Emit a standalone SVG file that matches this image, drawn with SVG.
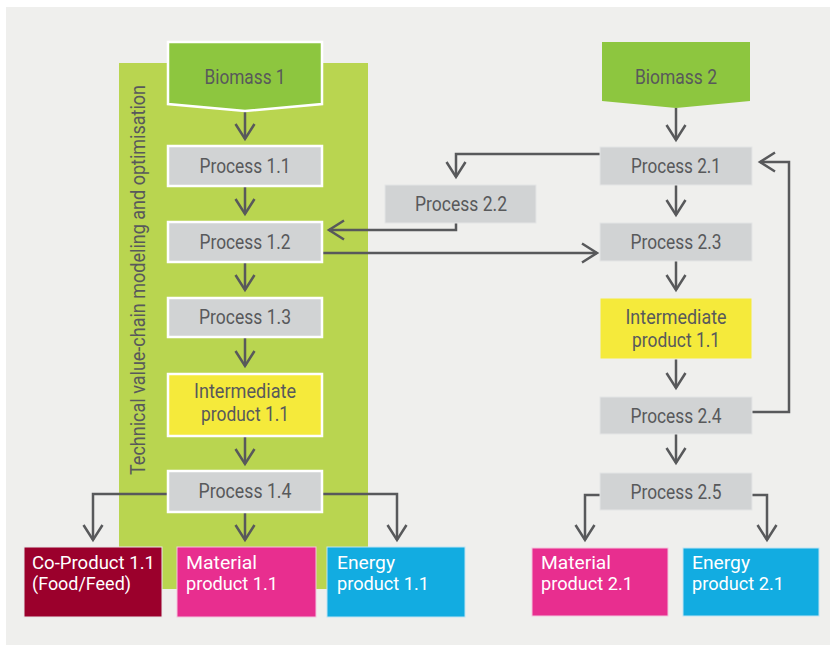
<svg xmlns="http://www.w3.org/2000/svg" width="830" height="645" viewBox="0 0 830 645">
<defs>
<style>
.t{font-family:Roboto,"Liberation Sans",sans-serif;font-size:20px;fill:#58595b;}
.c{text-anchor:middle;}
.w{fill:#ffffff;font-size:18px;}
.pl{fill:#d1d3d4;stroke:#ffffff;stroke-width:2.5;}
.pr{fill:#d1d3d4;stroke:#e4e5e6;stroke-width:1;}
.yl{fill:#f5ea3b;stroke:#ffffff;stroke-width:2.5;}
.yr{fill:#f5ea3b;stroke:#f0f0ec;stroke-width:1;}
.bm{fill:#8dc63f;}
.cn{fill:none;stroke:#58595b;stroke-width:2.5;marker-end:url(#ah);}
</style>
<marker id="ah" markerUnits="userSpaceOnUse" markerWidth="24" markerHeight="24" refX="0" refY="0" viewBox="-18 -12 20 24" orient="auto" overflow="visible">
<path d="M -15 -9.5 L 0 0 L -15 9.5" fill="none" stroke="#58595b" stroke-width="2.5"/>
</marker>
</defs>
<rect x="0" y="0" width="830" height="645" fill="#ffffff"/>
<rect x="6" y="7" width="824" height="638" fill="#efefed"/>
<g id="band">
<rect x="119" y="63" width="249" height="526" fill="#b9d550"/>
<text class="t" transform="translate(145,475) rotate(-90)" font-size="19" textLength="390" lengthAdjust="spacingAndGlyphs">Technical value-chain modeling and optimisation</text>
</g>
<g id="connectors">
<line class="cn" x1="245" y1="111" x2="245" y2="139"/>
<line class="cn" x1="245" y1="187" x2="245" y2="214"/>
<line class="cn" x1="245" y1="263" x2="245" y2="290"/>
<line class="cn" x1="245" y1="338" x2="245" y2="366"/>
<line class="cn" x1="245" y1="437" x2="245" y2="464"/>
<line class="cn" x1="245" y1="512" x2="245" y2="540"/>
<polyline class="cn" points="167,494 93,494 93,540"/>
<polyline class="cn" points="323,494 397,494 397,540"/>
<line class="cn" x1="676" y1="108" x2="676" y2="140"/>
<line class="cn" x1="676" y1="185" x2="676" y2="215"/>
<line class="cn" x1="676" y1="261" x2="676" y2="290"/>
<line class="cn" x1="676" y1="359" x2="676" y2="388"/>
<line class="cn" x1="676" y1="434" x2="676" y2="463"/>
<polyline class="cn" points="600,154 456,154 456,177"/>
<polyline class="cn" points="456,223 456,230 329,230"/>
<line class="cn" x1="323" y1="253" x2="597" y2="253"/>
<polyline class="cn" points="752,412 789,412 789,162 760,162"/>
<polyline class="cn" points="600,495 585,495 585,540"/>
<polyline class="cn" points="752,495 767,495 767,540"/>
</g>
<g id="biomass1">
<polygon class="bm" points="168,42 322,42 322,104 245,111 168,104" stroke="#ffffff" stroke-width="2.5"/>
<text class="t c" x="245" y="84" textLength="81" lengthAdjust="spacingAndGlyphs">Biomass 1</text>
</g>
<g id="p11">
<rect class="pl" x="168" y="146" width="154" height="40"/>
<text class="t c" x="245" y="173" textLength="91" lengthAdjust="spacingAndGlyphs">Process 1.1</text>
</g>
<g id="p12">
<rect class="pl" x="168" y="222" width="154" height="40"/>
<text class="t c" x="245" y="249" textLength="91" lengthAdjust="spacingAndGlyphs">Process 1.2</text>
</g>
<g id="p13">
<rect class="pl" x="168" y="298" width="154" height="39"/>
<text class="t c" x="245" y="324" textLength="92" lengthAdjust="spacingAndGlyphs">Process 1.3</text>
</g>
<g id="i11a">
<rect class="yl" x="168" y="374" width="154" height="62"/>
<text class="t c" x="245" y="398" textLength="102" lengthAdjust="spacingAndGlyphs">Intermediate</text>
<text class="t c" x="245" y="421" textLength="88" lengthAdjust="spacingAndGlyphs">product 1.1</text>
</g>
<g id="p14">
<rect class="pl" x="168" y="471" width="154" height="41"/>
<text class="t c" x="245" y="498" textLength="93" lengthAdjust="spacingAndGlyphs">Process 1.4</text>
</g>
<g id="cop11">
<rect x="24" y="547" width="138" height="70" fill="#9b002c" stroke="#e8e8e8" stroke-width="1"/>
<text class="t w" x="32" y="569" textLength="123" lengthAdjust="spacingAndGlyphs">Co-Product 1.1</text>
<text class="t w" x="32" y="590" textLength="99" lengthAdjust="spacingAndGlyphs">(Food/Feed)</text>
</g>
<g id="mat11">
<rect x="177" y="547" width="139" height="70" fill="#e82e8f" stroke="#f3c6de" stroke-width="1"/>
<text class="t w" x="186" y="569" textLength="71" lengthAdjust="spacingAndGlyphs">Material</text>
<text class="t w" x="186" y="590" textLength="92" lengthAdjust="spacingAndGlyphs">product 1.1</text>
</g>
<g id="en11">
<rect x="327" y="547" width="138" height="70" fill="#12ace1" stroke="#bfe4f3" stroke-width="1"/>
<text class="t w" x="337" y="569" textLength="58" lengthAdjust="spacingAndGlyphs">Energy</text>
<text class="t w" x="337" y="590" textLength="92" lengthAdjust="spacingAndGlyphs">product 1.1</text>
</g>
<g id="biomass2">
<polygon class="bm" points="602,42 750,42 750,101 676,108 602,101"/>
<text class="t c" x="676" y="84" textLength="82" lengthAdjust="spacingAndGlyphs">Biomass 2</text>
</g>
<g id="p21">
<rect class="pr" x="600" y="147" width="152" height="38"/>
<text class="t c" x="676" y="173" textLength="90" lengthAdjust="spacingAndGlyphs">Process 2.1</text>
</g>
<g id="p22">
<rect class="pr" x="385" y="185" width="151" height="38"/>
<text class="t c" x="461" y="211" textLength="92" lengthAdjust="spacingAndGlyphs">Process 2.2</text>
</g>
<g id="p23">
<rect class="pr" x="600" y="223" width="152" height="38"/>
<text class="t c" x="676" y="249" textLength="91" lengthAdjust="spacingAndGlyphs">Process 2.3</text>
</g>
<g id="i11b">
<rect class="yr" x="600" y="298" width="152" height="61"/>
<text class="t c" x="676" y="324" textLength="101" lengthAdjust="spacingAndGlyphs">Intermediate</text>
<text class="t c" x="676" y="347" textLength="88" lengthAdjust="spacingAndGlyphs">product 1.1</text>
</g>
<g id="p24">
<rect class="pr" x="600" y="397" width="152" height="37"/>
<text class="t c" x="676" y="423" textLength="91" lengthAdjust="spacingAndGlyphs">Process 2.4</text>
</g>
<g id="p25">
<rect class="pr" x="600" y="473" width="152" height="37"/>
<text class="t c" x="676" y="499" textLength="91" lengthAdjust="spacingAndGlyphs">Process 2.5</text>
</g>
<g id="mat21">
<rect x="532" y="548" width="136" height="68" fill="#e82e8f" stroke="#f3c6de" stroke-width="1"/>
<text class="t w" x="541" y="569" textLength="70" lengthAdjust="spacingAndGlyphs">Material</text>
<text class="t w" x="541" y="590" textLength="92" lengthAdjust="spacingAndGlyphs">product 2.1</text>
</g>
<g id="en21">
<rect x="683" y="548" width="136" height="68" fill="#12ace1" stroke="#bfe4f3" stroke-width="1"/>
<text class="t w" x="692" y="569" textLength="58" lengthAdjust="spacingAndGlyphs">Energy</text>
<text class="t w" x="692" y="590" textLength="92" lengthAdjust="spacingAndGlyphs">product 2.1</text>
</g>
</svg>
